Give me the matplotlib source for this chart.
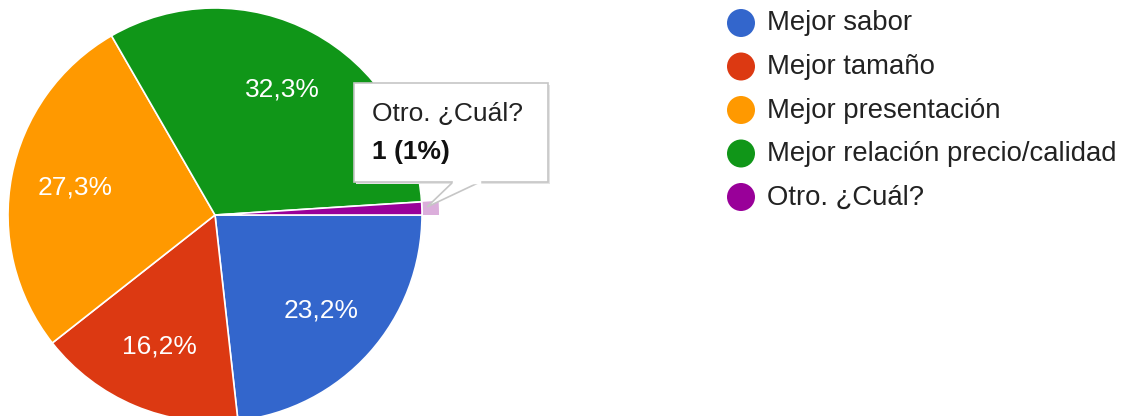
import matplotlib.pyplot as plt
from matplotlib.patches import Wedge, Rectangle, Polygon, Circle

categories = ["Mejor sabor", "Mejor tamaño", "Mejor presentación",
              "Mejor relación precio/calidad", "Otro. ¿Cuál?"]
counts = [23, 16, 27, 32, 1]
colors = ["#3366cc", "#dc3912", "#ff9900", "#109618", "#990099"]
hover_index = 4

plt.rcParams['font.family'] = ['Liberation Sans', 'DejaVu Sans']

total = sum(counts)


def pct_label(p):
    if p < 5:
        return ""
    return f"{p:.1f}%".replace(".", ",")


fig = plt.figure(figsize=(11.24, 4.16), dpi=100)
ax = fig.add_axes([0, 0, 1, 1])

# pixel coordinates, y pointing down -> counterclock=True draws clockwise
cx, cy, r = 215, 215, 207
wedges, texts, autotexts = ax.pie(
    counts, colors=colors, startangle=0, counterclock=True,
    center=(cx, cy), radius=r, autopct=pct_label, pctdistance=0.69,
    wedgeprops=dict(edgecolor="white", linewidth=1.2),
    textprops=dict(color="white", fontsize=19))

ax.set_xlim(0, 1124)
ax.set_ylim(416, 0)
ax.set_aspect("equal")
ax.axis("off")

# hover highlight ring on the small slice
w = wedges[hover_index]
ax.add_patch(Wedge((cx, cy), r + 17, w.theta1, w.theta2, width=16,
                   facecolor="#dbaedb", edgecolor="none", zorder=3))

# tooltip
bx0, by0, bx1, by1 = 354, 83, 548, 182
ax.add_patch(Rectangle((bx0 + 1.5, by0 + 2), bx1 - bx0, by1 - by0,
                       facecolor="#e4e4e4", edgecolor="none", zorder=4))
ax.add_patch(Rectangle((bx0, by0), bx1 - bx0, by1 - by0,
                       facecolor="white", edgecolor="#c6c6c6", linewidth=1.2, zorder=5))
ax.add_patch(Polygon([(453, by1), (427, 207), (480, by1)], closed=True,
                     facecolor="white", edgecolor="#c6c6c6", linewidth=1.2, zorder=6))
ax.plot([454, 479], [by1, by1], color="white", linewidth=2.5, zorder=7)
ax.text(372, 114, categories[hover_index], fontsize=19, color="#222222",
        va="center", ha="left", zorder=8)
ax.text(372, 152, f"{counts[hover_index]} ({counts[hover_index] * 100 // total}%)",
        fontsize=19, fontweight="bold", color="#111111", va="center", ha="left", zorder=8)

# legend
for i, (lab, col) in enumerate(zip(categories, colors)):
    y = 23 + 43.5 * i
    ax.add_patch(Circle((741, y), 14, facecolor=col, edgecolor="none"))
    ax.text(767, y + 0.5, lab, fontsize=19.8, color="#222222", va="center", ha="left")

fig.savefig("out.png", dpi=100)
